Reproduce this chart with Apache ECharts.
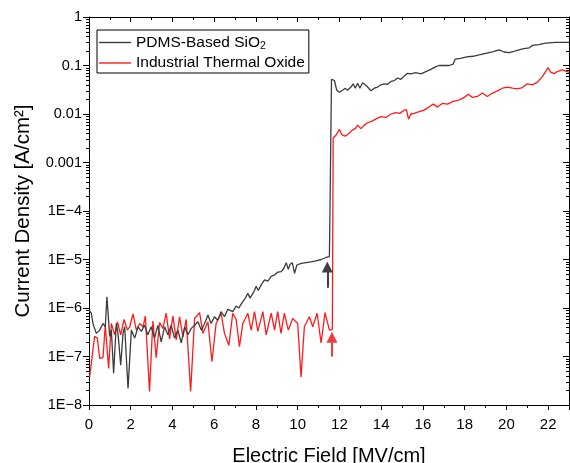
<!DOCTYPE html>
<html>
<head>
<meta charset="utf-8">
<title>J-E</title>
<script src="https://cdn.jsdelivr.net/npm/echarts@6/dist/echarts.min.js"></script>
<style>
  html, body { margin: 0; padding: 0; background: #fff; }
  #chart { width: 570px; height: 463px; }
</style>
</head>
<body>
<div id="chart"></div>
<script>
// series names (legend)
var seriesNames = ['PDMS-Based SiO2', 'Industrial Thermal Oxide'];

// x tick labels, y tick labels (decades 1E-8 .. 1)
var fieldTicks = [0, 2, 4, 6, 8, 10, 12, 14, 16, 18, 20, 22];
var densityTicks = ['1E\u22128', '1E\u22127', '1E\u22126', '1E\u22125', '1E\u22124', '0.001', '0.01', '0.1', '1'];

// [E (MV/cm), J (A/cm2)]
var pdmsData = [
  [0.0, 9.0e-7], [0.11, 7.8e-7], [0.19, 4.8e-7], [0.35, 3.0e-7], [0.51, 3.5e-7], [0.67, 4.8e-7],
  [0.78, 4.1e-7], [0.86, 1.7e-6], [0.99, 2.6e-7], [1.07, 3.5e-7], [1.18, 4.5e-8], [1.31, 4.8e-7],
  [1.39, 3.0e-7], [1.52, 6.6e-8], [1.63, 3.0e-7], [1.71, 4.1e-7], [1.87, 2.2e-8], [2.03, 3.5e-7],
  [2.19, 2.4e-7], [2.35, 4.1e-7], [2.51, 3.3e-7], [2.66, 4.4e-7], [2.82, 2.8e-7], [2.98, 4.1e-7],
  [3.14, 2.4e-7], [3.30, 4.4e-7], [3.46, 2.0e-7], [3.62, 4.1e-7], [3.78, 2.8e-7], [3.94, 4.4e-7],
  [4.10, 2.4e-7], [4.26, 3.5e-7], [4.42, 1.9e-7], [4.58, 4.1e-7], [4.74, 2.8e-7], [4.90, 3.8e-7],
  [5.06, 4.4e-7], [5.22, 5.2e-7], [5.38, 3.5e-7], [5.54, 4.8e-7], [5.70, 7.2e-7], [5.85, 4.8e-7],
  [6.01, 6.6e-7], [6.17, 5.6e-7], [6.33, 8.4e-7], [6.49, 6.6e-7], [6.65, 9.4e-7], [6.89, 8.4e-7],
  [7.05, 1.1e-6], [7.18, 1.0e-6], [7.29, 1.2e-6], [7.45, 1.5e-6], [7.53, 1.45e-6], [7.61, 2.0e-6],
  [7.72, 1.6e-6], [7.85, 2.0e-6], [7.93, 2.3e-6], [8.01, 2.8e-6], [8.11, 2.3e-6], [8.25, 3.0e-6],
  [8.41, 3.8e-6], [8.57, 3.6e-6], [8.73, 4.5e-6], [8.89, 4.8e-6], [9.05, 5.5e-6], [9.21, 5.6e-6],
  [9.34, 6.6e-6], [9.45, 8.6e-6], [9.55, 6.3e-6], [9.64, 8.0e-6], [9.74, 8.6e-6], [9.85, 5.2e-6],
  [9.96, 7.7e-6], [10.17, 8.3e-6], [10.40, 8.6e-6], [10.64, 8.9e-6], [10.88, 9.4e-6], [11.12, 1.0e-5],
  [11.36, 1.1e-5], [11.52, 1.15e-5], [11.56, 1.2e-5], [11.62, 0.052], [11.76, 0.049], [11.87, 0.031],
  [12.00, 0.028], [12.15, 0.031], [12.28, 0.034], [12.39, 0.031], [12.55, 0.036], [12.66, 0.042],
  [12.76, 0.034], [12.87, 0.043], [12.98, 0.034], [13.11, 0.044], [13.24, 0.040], [13.35, 0.036],
  [13.51, 0.030], [13.67, 0.034], [13.83, 0.036], [13.99, 0.040], [14.15, 0.042], [14.31, 0.041],
  [14.47, 0.047], [14.63, 0.049], [14.79, 0.055], [14.95, 0.052], [15.11, 0.061], [15.26, 0.069],
  [15.42, 0.067], [15.66, 0.071], [15.90, 0.067], [16.14, 0.075], [16.38, 0.083], [16.62, 0.095],
  [16.78, 0.10], [17.02, 0.10], [17.26, 0.10], [17.45, 0.107], [17.55, 0.136], [17.8, 0.14],
  [18.1, 0.15], [18.4, 0.155], [18.69, 0.165], [19.01, 0.178], [19.33, 0.19], [19.65, 0.21],
  [19.73, 0.22], [19.89, 0.19], [20.13, 0.185], [20.45, 0.20], [20.77, 0.22], [21.09, 0.23],
  [21.25, 0.26], [21.56, 0.27], [21.88, 0.29], [22.36, 0.30], [22.84, 0.30], [23.0, 0.30]
];

var oxideData = [
  [0.03, 3.8e-8], [0.27, 2.6e-7], [0.40, 2.4e-7], [0.51, 9.2e-8], [0.67, 9.5e-8], [0.78, 4.4e-7],
  [0.94, 5.7e-8], [1.07, 4.8e-7], [1.23, 2.8e-7], [1.36, 5.2e-7], [1.52, 2.8e-7], [1.68, 5.8e-7],
  [1.84, 3.5e-7], [1.95, 4.1e-7], [2.11, 7.6e-7], [2.27, 3.5e-7], [2.43, 4.8e-7], [2.59, 4.1e-7],
  [2.70, 6.8e-7], [2.90, 1.9e-8], [3.06, 5.4e-7], [3.22, 9.5e-8], [3.38, 5.0e-7], [3.54, 3.8e-7],
  [3.70, 7.8e-7], [3.86, 2.3e-7], [4.02, 6.8e-7], [4.18, 2.2e-7], [4.34, 6.6e-7], [4.50, 2.5e-7],
  [4.66, 5.8e-7], [4.87, 1.9e-8], [5.06, 6.1e-7], [5.30, 8.0e-7], [5.46, 3.0e-7], [5.70, 5.2e-7],
  [5.89, 7.8e-8], [6.09, 4.8e-7], [6.33, 7.8e-7], [6.49, 3.0e-7], [6.70, 1.7e-7], [6.89, 7.8e-7],
  [7.05, 5.8e-7], [7.21, 1.6e-7], [7.37, 4.8e-7], [7.61, 7.8e-7], [7.77, 3.5e-7], [7.93, 8.4e-7],
  [8.09, 3.3e-7], [8.33, 8.4e-7], [8.49, 2.8e-7], [8.73, 7.8e-7], [8.89, 3.5e-7], [9.04, 8.4e-7],
  [9.20, 3.0e-7], [9.36, 7.8e-7], [9.55, 3.5e-7], [9.76, 6.1e-7], [10.00, 4.8e-7], [10.16, 3.8e-8],
  [10.32, 4.1e-7], [10.56, 6.6e-7], [10.72, 4.1e-7], [10.93, 7.8e-7], [11.12, 1.9e-7], [11.31, 8.0e-7],
  [11.52, 3.5e-7], [11.66, 3.6e-7], [11.70, 0.0032], [11.84, 0.0037], [12.00, 0.0048], [12.12, 0.0037],
  [12.28, 0.0035], [12.44, 0.0039], [12.63, 0.0047], [12.76, 0.0050], [12.87, 0.0059], [13.03, 0.0050],
  [13.19, 0.0059], [13.35, 0.0066], [13.59, 0.0072], [13.83, 0.0082], [13.99, 0.0088], [14.23, 0.0085],
  [14.47, 0.010], [14.70, 0.0107], [14.89, 0.0103], [15.10, 0.012], [15.21, 0.0123], [15.31, 0.0078],
  [15.42, 0.010], [15.58, 0.0103], [15.82, 0.0112], [16.06, 0.012], [16.30, 0.014], [16.49, 0.016],
  [16.70, 0.014], [16.94, 0.0166], [17.18, 0.016], [17.42, 0.018], [17.74, 0.0195], [17.98, 0.022],
  [18.18, 0.0255], [18.37, 0.022], [18.61, 0.023], [18.85, 0.027], [19.09, 0.023], [19.33, 0.027],
  [19.57, 0.030], [19.81, 0.034], [20.05, 0.036], [20.29, 0.034], [20.53, 0.033], [20.77, 0.035],
  [21.00, 0.042], [21.24, 0.040], [21.48, 0.045], [21.72, 0.059], [21.88, 0.075], [22.00, 0.091],
  [22.12, 0.073], [22.28, 0.068], [22.44, 0.075], [22.68, 0.081], [22.92, 0.075], [23.0, 0.072]
];

// arrows marking breakdown: [E, J at tail, J at head centre]
var pdmsArrow = [11.42, 2.6e-6, 7.0e-6];
var oxideArrow = [11.64, 1.0e-7, 2.5e-7];

var xMin = 0, xMax = 23;
var font = 'Arial, "Liberation Sans", sans-serif';

// log minor ticks 2..9 per decade
var minorTicks = [];
for (var d = -8; d < 0; d++) {
  for (var m = 2; m <= 9; m++) {
    minorTicks.push([xMin, m * Math.pow(10, d)]);
  }
}

function yLabel(v) {
  var e = Math.round(Math.log10(v));
  return densityTicks[e + 8];
}

function arrow(a, color) {
  return {
    silent: true,
    symbol: ['none', 'triangle'],
    symbolSize: 11,
    label: { show: false },
    lineStyle: { color: color, width: 2, type: 'solid' },
    itemStyle: { color: color },
    data: [[{ coord: [a[0], a[1]] }, { coord: [a[0], a[2]] }]]
  };
}

var myChart = echarts.init(document.getElementById('chart'));
var option = {
  animation: false,
  backgroundColor: '#fff',
  grid: { left: 89, right: 1, top: 17, bottom: 58, outerBoundsMode: 'none', containLabel: false },
  legend: {
    data: [
      { name: seriesNames[0], icon: 'rect', itemStyle: { color: '#3c3c3c' } },
      { name: seriesNames[1], icon: 'rect', itemStyle: { color: '#ff1a1a' } }
    ],
    orient: 'vertical',
    left: 97,
    top: 30,
    borderColor: '#000',
    borderWidth: 1,
    padding: [3, 4, 2, 2],
    itemWidth: 32,
    itemHeight: 1.4,
    itemGap: 3,
    formatter: function(name) {
      if (name === seriesNames[0]) return '{a|PDMS-Based SiO}{s|2}';
      return '{a|' + name + '}';
    },
    textStyle: {
      color: '#000',
      fontFamily: font,
      rich: {
        a: { fontSize: 15.5, fontFamily: font, color: '#000', lineHeight: 19 },
        s: { fontSize: 10.5, fontFamily: font, color: '#000', lineHeight: 19, verticalAlign: 'bottom', padding: [8, 0, 0, 0] }
      }
    }
  },
  xAxis: [{
    type: 'value',
    min: xMin,
    max: xMax,
    interval: 2,
    name: 'Electric Field [MV/cm]',
    nameLocation: 'middle',
    nameGap: 41,
    nameTextStyle: { fontSize: 20, fontFamily: font, color: '#000' },
    axisLine: { show: true, onZero: false, lineStyle: { color: '#000', width: 1 } },
    axisTick: { show: true, length: 5, lineStyle: { color: '#000' } },
    minorTick: { show: true, splitNumber: 2, length: 3, lineStyle: { color: '#000' } },
    splitLine: { show: false },
    axisLabel: {
      margin: 12,
      fontSize: 15,
      fontFamily: font,
      color: '#000',
      showMaxLabel: false,
      formatter: function(v) { return fieldTicks.indexOf(v) >= 0 ? String(v) : ''; }
    }
  }, {
    type: 'value',
    position: 'top',
    min: xMin,
    max: xMax,
    interval: 2,
    axisLine: { show: true, onZero: false, lineStyle: { color: '#000', width: 1 } },
    axisTick: { show: true, inside: true, length: 5, lineStyle: { color: '#000' } },
    minorTick: { show: true, splitNumber: 2, length: 3, lineStyle: { color: '#000' } },
    splitLine: { show: false },
    axisLabel: { show: false }
  }],
  yAxis: [{
    type: 'log',
    logBase: 10,
    min: 1e-8,
    max: 1,
    splitNumber: 8,
    name: 'Current Density [A/cm\u00b2]',
    nameLocation: 'middle',
    nameGap: 55,
    nameTextStyle: { fontSize: 20.5, fontFamily: font, color: '#000' },
    axisLine: { show: true, onZero: false, lineStyle: { color: '#000', width: 1 } },
    axisTick: { show: true, length: 6, lineStyle: { color: '#000' } },
    splitLine: { show: false },
    axisLabel: { margin: 7, fontSize: 14.5, fontFamily: font, color: '#000', formatter: yLabel }
  }, {
    type: 'log',
    logBase: 10,
    min: 1e-8,
    max: 1,
    splitNumber: 8,
    position: 'right',
    axisLine: { show: true, onZero: false, lineStyle: { color: '#000', width: 1 } },
    axisTick: { show: true, inside: true, length: 6, lineStyle: { color: '#000' } },
    splitLine: { show: false },
    axisLabel: { show: false }
  }],
  series: [{
    name: seriesNames[0],
    type: 'line',
    data: pdmsData,
    symbol: 'none',
    z: 3,
    lineStyle: { color: '#3c3c3c', width: 1.3 },
    itemStyle: { color: '#3c3c3c' },
    markLine: arrow(pdmsArrow, '#404040')
  }, {
    name: seriesNames[1],
    type: 'line',
    data: oxideData,
    symbol: 'none',
    z: 2,
    lineStyle: { color: '#ff1a1a', width: 1.3 },
    itemStyle: { color: '#ff1a1a' },
    markLine: arrow(oxideArrow, '#f03c3c')
  }, {
    // log minor ticks on left (outside) and right (inside) axes
    type: 'custom',
    silent: true,
    clip: false,
    data: minorTicks,
    renderItem: function(params, api) {
      var v = api.value(1);
      var pl = api.coord([xMin, v]);
      var pr = api.coord([xMax, v]);
      var y = Math.round(pl[1]) + 0.5;
      return {
        type: 'group',
        children: [{
          type: 'line',
          shape: { x1: pl[0] - 3, y1: y, x2: pl[0], y2: y },
          style: { stroke: '#000', lineWidth: 1 }
        }, {
          type: 'line',
          shape: { x1: pr[0] - 3, y1: y, x2: pr[0], y2: y },
          style: { stroke: '#000', lineWidth: 1 }
        }]
      };
    }
  }]
};
myChart.setOption(option);
</script>
</body>
</html>
